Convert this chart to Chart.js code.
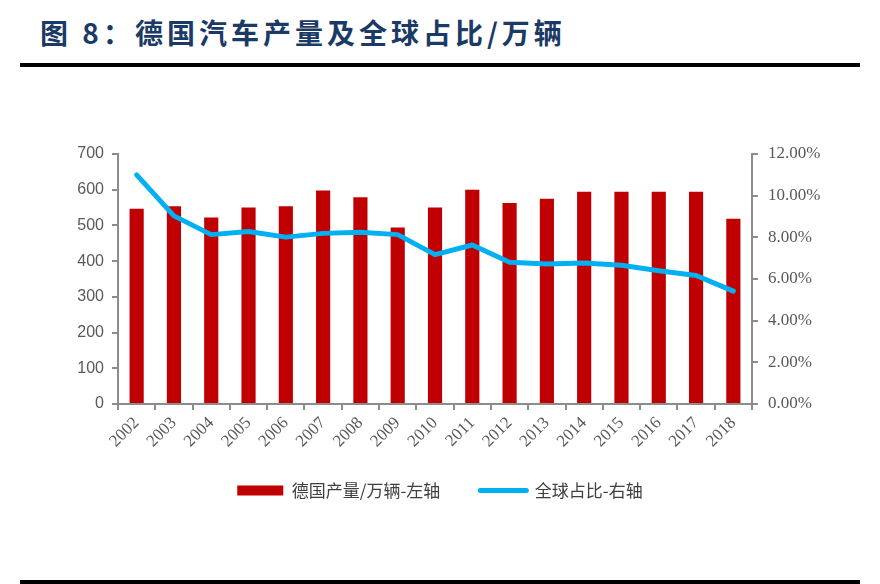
<!DOCTYPE html>
<html>
<head>
<meta charset="utf-8">
<script src="https://cdn.jsdelivr.net/npm/chart.js@4.4.1/dist/chart.umd.min.js"></script>
<style>
    html, body { margin: 0; padding: 0; background: #fff; }
    body { width: 880px; height: 584px; position: relative; overflow: hidden; }
    .title {
        position: absolute; left: 40px; top: 12px;
        font-family: "Noto Sans CJK SC", sans-serif; font-weight: 700;
        font-size: 28px; letter-spacing: 4px; color: #1b3a66; white-space: nowrap;
    }
    .rule { position: absolute; left: 20px; width: 840px; background: #000; }
    .rule.top { top: 63px; height: 4px; }
    .rule.bottom { top: 580px; height: 4px; }
    .chart-box { position: absolute; left: 0; top: 80px; width: 880px; height: 480px; }
</style>
</head>
<body>
<div class="title">图 8：德国汽车产量及全球占比/万辆</div>
<div class="rule top"></div>
<div class="chart-box"><canvas id="germanyChart"></canvas></div>
<div class="rule bottom"></div>
<script>
// Data
const years = ['2002', '2003', '2004', '2005', '2006', '2007', '2008', '2009', '2010',
               '2011', '2012', '2013', '2014', '2015', '2016', '2017', '2018'];
// German vehicle production, 10k units (left axis)
const production = [547, 554, 522, 550, 554, 598, 579, 494, 550,
                    600, 563, 575, 594, 594, 594, 594, 519];
// Share of global production, % (right axis)
const globalShare = [11.0, 9.03, 8.13, 8.28, 8.01, 8.19, 8.24, 8.13, 7.17,
                     7.63, 6.80, 6.72, 6.77, 6.66, 6.40, 6.17, 5.42];
const leftTicks = [0, 100, 200, 300, 400, 500, 600, 700];
const rightTicks = [0, 2, 4, 6, 8, 10, 12];

const axisGrey = '#8c8c8c';
const labelGrey = '#595959';

document.addEventListener('DOMContentLoaded', function() {
    const ctx = document.getElementById('germanyChart');

    new Chart(ctx.getContext('2d'), {
        data: {
            labels: years,
            datasets: [{
                type: 'bar',
                label: '德国产量/万辆-左轴',
                data: production,
                backgroundColor: '#c00000',
                barPercentage: 0.38,
                categoryPercentage: 1,
                yAxisID: 'y',
                order: 2
            }, {
                type: 'line',
                label: '全球占比-右轴',
                data: globalShare,
                borderColor: '#00b0f0',
                backgroundColor: '#00b0f0',
                borderWidth: 5,
                borderCapStyle: 'round',
                borderJoinStyle: 'round',
                pointRadius: 0,
                tension: 0,
                yAxisID: 'y1',
                order: 1
            }]
        },
        options: {
            responsive: true,
            maintainAspectRatio: false,
            animation: false,
            layout: { padding: { top: 74, bottom: 51, left: 0, right: 0 } },
            scales: {
                x: {
                    grid: { drawOnChartArea: false, tickLength: 6, tickColor: axisGrey, lineWidth: 2 },
                    border: { color: axisGrey, width: 2 },
                    ticks: {
                        minRotation: 45, maxRotation: 45, padding: 3,
                        color: labelGrey,
                        font: { family: '"Liberation Serif", serif', size: 17 }
                    },
                    afterFit: function(scale) {
                        scale.height = 38;
                        // rotated year labels run a little below the fixed axis box; don't clip them
                        scale._computeLabelArea = function() { return undefined; };
                    }
                },
                y: {
                    position: 'left',
                    min: 0, max: 700,
                    afterBuildTicks: function(scale) { scale.ticks = leftTicks.map(v => ({ value: v })); },
                    grid: { drawOnChartArea: false, tickLength: 6, tickColor: axisGrey, lineWidth: 2 },
                    border: { color: axisGrey, width: 2 },
                    ticks: {
                        padding: 8, color: labelGrey,
                        font: { family: '"Liberation Sans", sans-serif', size: 16 }
                    },
                    afterFit: function(scale) { scale.width = 118; }
                },
                y1: {
                    position: 'right',
                    min: 0, max: 12,
                    afterBuildTicks: function(scale) { scale.ticks = rightTicks.map(v => ({ value: v })); },
                    grid: { drawOnChartArea: false, tickLength: 6, tickColor: axisGrey, lineWidth: 2 },
                    border: { color: axisGrey, width: 2 },
                    ticks: {
                        padding: 10, color: labelGrey,
                        font: { family: '"Liberation Serif", serif', size: 17 },
                        callback: function(v) { return v.toFixed(2) + '%'; }
                    },
                    afterFit: function(scale) { scale.width = 128; }
                }
            },
            plugins: {
                tooltip: { enabled: false },
                legend: {
                    position: 'bottom',
                    labels: {
                        usePointStyle: true,
                        pointStyleWidth: 46,
                        boxHeight: 10,
                        padding: 40,
                        color: '#404040',
                        font: { family: '"Noto Sans CJK SC", sans-serif', size: 17 },
                        generateLabels: function(chart) {
                            const items = Chart.defaults.plugins.legend.labels.generateLabels(chart);
                            items.sort((a, b) => a.datasetIndex - b.datasetIndex);
                            items.forEach(function(item) {
                                if (item.datasetIndex === 0) {
                                    item.pointStyle = 'rect';
                                    item.lineWidth = 0;
                                } else {
                                    item.pointStyle = 'line';
                                    item.lineWidth = 5;
                                    item.lineCap = 'round';
                                    item.strokeStyle = '#00b0f0';
                                }
                            });
                            return items;
                        }
                    }
                }
            }
        }
    });
});
</script>
</body>
</html>
